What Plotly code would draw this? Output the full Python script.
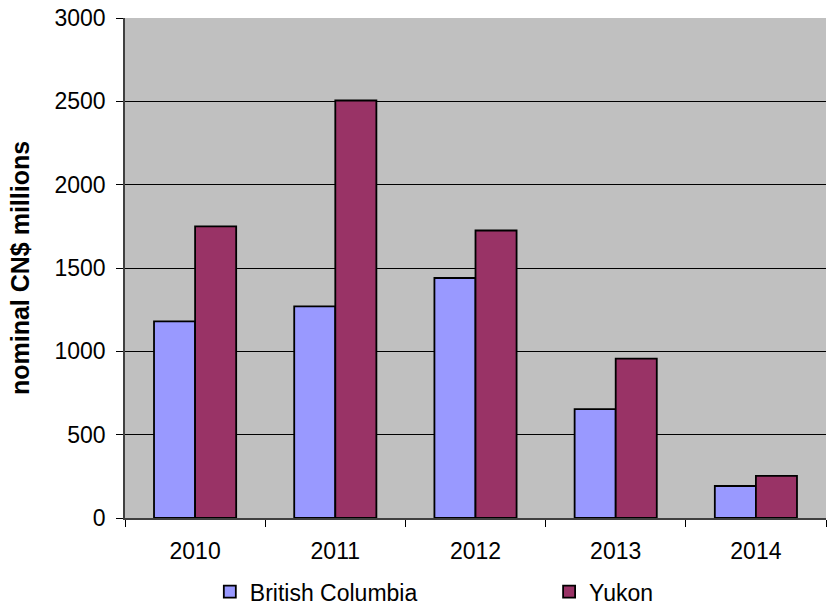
import plotly.graph_objects as go

years = ["2010", "2011", "2012", "2013", "2014"]
british_columbia = [1180, 1270, 1440, 653, 192]
yukon = [1750, 2505, 1725, 956, 253]

FONT = "Liberation Sans, Arial, sans-serif"

fig = go.Figure()
fig.add_trace(go.Bar(
    x=years, y=british_columbia, name="British Columbia", legend="legend",
    marker=dict(color="#9999FF", line=dict(color="black", width=1.8)),
))
fig.add_trace(go.Bar(
    x=years, y=yukon, name="Yukon", legend="legend2",
    marker=dict(color="#993366", line=dict(color="black", width=1.8)),
))

legend_common = dict(
    orientation="h",
    yref="container", y=0.022, yanchor="middle",
    xanchor="left",
    font=dict(size=23),
    bgcolor="rgba(0,0,0,0)",
    itemclick=False, itemdoubleclick=False,
)

fig.update_layout(
    width=827, height=605,
    margin=dict(l=125, r=1, t=18, b=87, autoexpand=False),
    paper_bgcolor="white",
    plot_bgcolor="#C0C0C0",
    barmode="group",
    bargap=0.414,
    bargroupgap=0,
    font=dict(family=FONT, size=23, color="black"),
    showlegend=True,
    legend=dict(x=0.121, **legend_common),
    legend2=dict(x=0.605, **legend_common),
)

fig.update_xaxes(
    type="category",
    showline=True, linecolor="#404040", linewidth=1.5,
    ticks="outside", tickson="boundaries", ticklen=7, tickcolor="black",
    ticklabelstandoff=12,
    showgrid=False,
    tickfont=dict(size=23),
)
fig.update_yaxes(
    range=[0, 3000], dtick=500, tick0=0,
    showline=True, linecolor="#404040", linewidth=1.5,
    ticks="outside", ticklen=7, tickcolor="black",
    ticklabelstandoff=6,
    showgrid=True, gridcolor="black", gridwidth=1,
    zeroline=False,
    tickfont=dict(size=23),
    title=dict(text="<b>nominal CN$ millions</b>", font=dict(size=25), standoff=18),
)

fig.write_html("out.html")
